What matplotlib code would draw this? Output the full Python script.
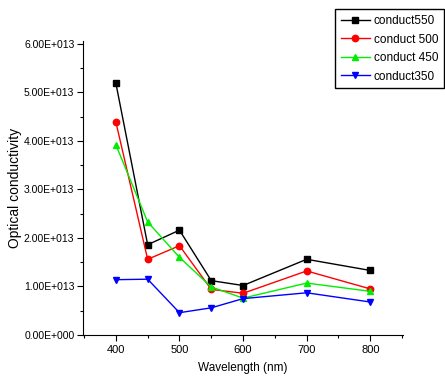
import matplotlib.pyplot as plt
from matplotlib.ticker import FuncFormatter, MultipleLocator

plt.rcParams['font.family'] = ['Liberation Sans', 'DejaVu Sans']

# Optical conductivity vs. wavelength for four samples
wavelength = [400, 450, 500, 550, 600, 700, 800]
conduct550 = [5.19e13, 1.86e13, 2.16e13, 1.12e13, 1.02e13, 1.56e13, 1.33e13]
conduct500 = [4.39e13, 1.56e13, 1.84e13, 0.94e13, 0.86e13, 1.32e13, 0.95e13]
conduct450 = [3.92e13, 2.33e13, 1.60e13, 0.99e13, 0.76e13, 1.07e13, 0.90e13]
conduct350 = [1.14e13, 1.15e13, 0.46e13, 0.56e13, 0.75e13, 0.87e13, 0.68e13]

series = [
    ("conduct550", conduct550, "black", "s"),
    ("conduct 500", conduct500, "red", "o"),
    ("conduct 450", conduct450, "#00ee00", "^"),
    ("conduct350", conduct350, "blue", "v"),
]


def sci_label(v, pos):
    # Origin-style labels, e.g. 5.00E+013
    if v == 0:
        return "0.00E+000"
    exp = int(f"{v:.2E}".split("E")[1])
    return f"{v / 10**exp:.2f}E+{exp:03d}"


fig = plt.figure(figsize=(4.45, 3.82), dpi=100)
ax = fig.add_axes([0.186, 0.123, 0.719, 0.770])

for label, vals, color, marker in series:
    ax.plot(wavelength, vals, color=color, marker=marker, markersize=4.6,
            linewidth=1, label=label)

ax.set_xlim(348, 851)
ax.set_ylim(0, 6.06e13)
ax.xaxis.set_major_locator(MultipleLocator(100))
ax.xaxis.set_minor_locator(MultipleLocator(50))
ax.yaxis.set_major_locator(MultipleLocator(1e13))
ax.yaxis.set_minor_locator(MultipleLocator(0.5e13))
ax.yaxis.set_major_formatter(FuncFormatter(sci_label))

for side in ("top", "right"):
    ax.spines[side].set_visible(False)
ax.tick_params(which="both", direction="out", width=0.8)
ax.tick_params(which="major", length=4)
ax.tick_params(which="minor", length=2.5)
ax.tick_params(axis="y", labelsize=7.5, pad=2)
ax.tick_params(axis="x", labelsize=8, pad=3)

ax.set_xlabel("Wavelength (nm)", fontsize=8.5, labelpad=5)
ax.set_ylabel("Optical conductivity", fontsize=10)
ax.yaxis.set_label_coords(-0.19, 0.5)

ax.legend(loc="upper right", bbox_to_anchor=(0.998, 0.976),
          bbox_transform=fig.transFigure, borderaxespad=0, fontsize=8.5,
          frameon=True, fancybox=False, edgecolor="black", framealpha=1,
          handlelength=2.4, handletextpad=0.35, borderpad=0.5,
          labelspacing=0.55)

fig.savefig("out.png", dpi=100)
